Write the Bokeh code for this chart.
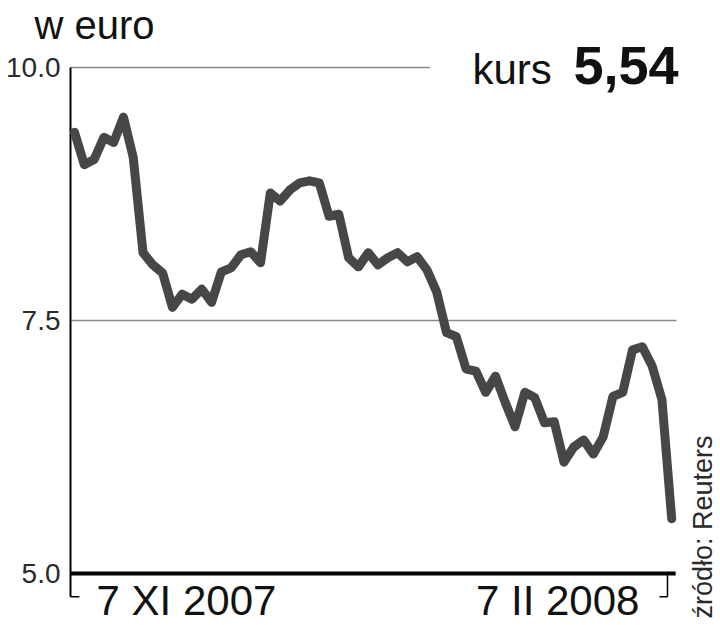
from bokeh.plotting import figure
from bokeh.models import Range1d, ColumnDataSource
from bokeh.core.properties import value
from bokeh.embed import file_html
from bokeh.resources import INLINE
import math

# ---- data ----
rates = [9.36, 9.04, 9.09, 9.31, 9.26, 9.51, 9.11, 8.17, 8.05, 7.97,
         7.63, 7.76, 7.71, 7.81, 7.68, 7.98, 8.02, 8.15, 8.18, 8.07,
         8.76, 8.68, 8.79, 8.86, 8.88, 8.86, 8.53, 8.55, 8.12, 8.03,
         8.17, 8.05, 8.12, 8.17, 8.08, 8.13, 8.00, 7.78, 7.38, 7.34,
         7.02, 7.00, 6.79, 6.95, 6.69, 6.45, 6.79, 6.74, 6.49, 6.50,
         6.10, 6.25, 6.32, 6.18, 6.35, 6.75, 6.79, 7.21, 7.24, 7.05,
         6.72, 5.54]
days = list(range(len(rates)))
y_ticks = [5.0, 7.5, 10.0]
y_tick_labels = ["5.0", "7.5", "10.0"]
date_labels = ["7 XI 2007", "7 II 2008"]
last_value_label = "5,54"

FONT = value("Liberation Sans")

p = figure(width=718, height=624, output_backend="svg", toolbar_location=None,
           x_range=Range1d(-7.56, 65.78), y_range=Range1d(4.496, 10.662),
           min_border=0, min_border_left=0, min_border_right=0,
           min_border_top=0, min_border_bottom=0)
p.xaxis.visible = False
p.yaxis.visible = False
p.grid.visible = False
p.outline_line_color = None
p.background_fill_color = "white"
p.border_fill_color = "white"

x0 = -0.41
x_end = 61.5
# grid lines
p.segment(x0=[x0], y0=[7.5], x1=[x_end], y1=[7.5], line_color="#8a8a8a", line_width=1.5)
p.segment(x0=[x0], y0=[10.0], x1=[36.3], y1=[10.0], line_color="#8a8a8a", line_width=1.5)
# axis lines & brackets
p.segment(x0=[x0], y0=[10.0], x1=[x0], y1=[4.77], line_color="black", line_width=2)
p.segment(x0=[x0], y0=[4.77], x1=[0.5], y1=[4.77], line_color="black", line_width=1.5)
p.segment(x0=[60.57], y0=[5.0], x1=[60.57], y1=[4.77], line_color="black", line_width=1.5)
p.segment(x0=[59.75], y0=[4.77], x1=[60.57], y1=[4.77], line_color="black", line_width=1.5)

# the series
src = ColumnDataSource(dict(x=days, y=rates))
p.line("x", "y", source=src, line_color="#474747", line_width=9,
       line_join="round", line_cap="round")

# baseline on top
p.segment(x0=[x0], y0=[5.0], x1=[61.4], y1=[5.0], line_color="black", line_width=4)

# y tick labels
p.text(x=[-1.43] * 3, y=y_ticks, text=y_tick_labels, text_align="right",
       text_baseline="middle", text_font=FONT, text_font_size="28px",
       text_color="#2a2a2a")

# titles
p.text(x=[-4.09], y=[10.42], text=["w euro"], text_align="left",
       text_baseline="middle", text_font=FONT, text_font_size="40px",
       text_color="#111111")
p.text(x=[40.65], y=[9.98], text=["kurs"], text_align="left",
       text_baseline="middle", text_font=FONT, text_font_size="42px",
       text_color="#111111")
p.text(x=[50.97], y=[10.02], text=[last_value_label], text_align="left",
       text_baseline="middle", text_font=FONT, text_font_size="54px",
       text_font_style="bold", text_color="#111111")

# date labels
p.text(x=[2.25], y=[4.73], text=[date_labels[0]], text_align="left",
       text_baseline="middle", text_font=FONT, text_font_size="42px",
       text_color="#111111")
p.text(x=[57.7], y=[4.73], text=[date_labels[1]], text_align="right",
       text_baseline="middle", text_font=FONT, text_font_size="42px",
       text_color="#111111")

# source
p.text(x=[64.2], y=[4.555], text=["źródło: Reuters"], angle=math.pi / 2,
       text_align="left", text_baseline="middle", text_font=FONT,
       text_font_size="27px", text_color="#2a2a2a")

open("out.html", "w").write(file_html(p, INLINE))
